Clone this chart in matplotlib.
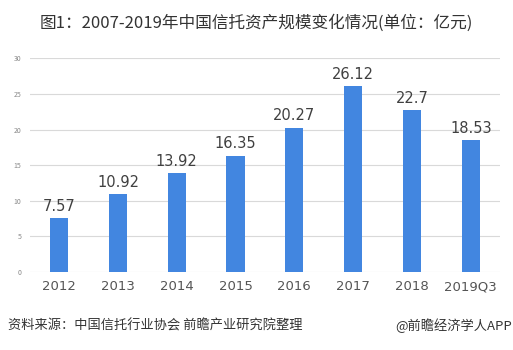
import matplotlib.pyplot as plt

plt.rcParams['font.family'] = ['Noto Sans CJK SC', 'DejaVu Sans']

# 信托资产规模数据
years = ['2012', '2013', '2014', '2015', '2016', '2017', '2018', '2019Q3']
scale = [7.57, 10.92, 13.92, 16.35, 20.27, 26.12, 22.7, 18.53]
y_ticks = [0, 5, 10, 15, 20, 25, 30]

fig = plt.figure(figsize=(5.13, 3.5), dpi=100)
ax = fig.add_axes([0.058, 0.223, 0.917, 0.61])

x = range(len(years))
ax.bar(x, scale, width=0.31, color='#4286e0', zorder=3)

# 柱顶数值标签
for i, v in zip(x, scale):
    ax.text(i, v + 0.6, f'{v:g}', ha='center', va='bottom', fontsize=10.5,
            color='#404040', family='DejaVu Sans')

ax.set_xlim(-0.5, len(years) - 0.5)
ax.set_ylim(0, 30)
ax.set_yticks(y_ticks)
ax.set_yticklabels([str(t) for t in y_ticks], fontsize=5, color='#888888')
ax.set_xticks(list(x))
ax.set_xticklabels(years, fontsize=9.5, color='#555555', family='DejaVu Sans')
ax.tick_params(axis='both', length=0)
ax.tick_params(axis='x', pad=6)
ax.tick_params(axis='y', pad=6)
ax.grid(axis='y', color='#d9d9d9', linewidth=0.8, zorder=0)
for s in ax.spines.values():
    s.set_visible(False)

fig.text(0.5, 0.935, '图1：2007-2019年中国信托资产规模变化情况(单位：亿元)',
         ha='center', va='center', fontsize=12, color='#333333')
fig.text(0.015, 0.07, '资料来源：中国信托行业协会 前瞻产业研究院整理',
         ha='left', va='center', fontsize=9.5, color='#333333')
fig.text(0.998, 0.07, '@前瞻经济学人APP',
         ha='right', va='center', fontsize=9.5, color='#333333')

plt.savefig('out.png', dpi=100)
